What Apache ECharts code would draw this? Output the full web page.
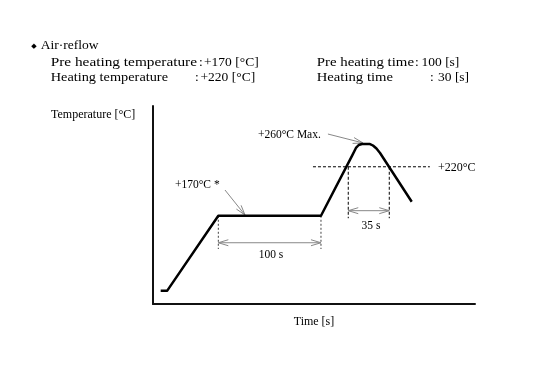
<!DOCTYPE html>
<html><head><meta charset="utf-8">
<script src="https://cdn.jsdelivr.net/npm/echarts@6/dist/echarts.min.js"></script>
<style>html,body{margin:0;padding:0;background:#fff}#c{width:553px;height:368px}</style>
</head><body><div id="c"></div>
<script>
// Reflow profile (time in s, temperature in °C, schematic)
const profileTimes = [7.5, 13.9, 63.7, 163.8, 194.3, 197.9, 200.6, 203.8, 211.6, 214.5, 217.9, 221.4, 252.3];
const profileTemps = [93.6, 93.6, 170, 170, 231.7, 239.2, 242.2, 243.2, 243.2, 241.7, 238.6, 234, 184.3];
// 220 °C reference line
const refTemp = 220;
const refTimes = [156, 270];
// pre-heating span (100 s)
const holdTimes = [63.7, 163.8];
const holdTemps = [170, 136];
const holdArrowTemp = 142.5;
// heating span (35 s)
const heatTimes = [190.4, 230.4];
const heatTemps = [220, 167.5];
const heatArrowTemp = 175.2;
// annotation arrows [fromTime, fromTemp, toTime, toTemp]
const arrow170 = [70.2, 196.3, 89.7, 170.8];
const arrow260 = [170.6, 253.4, 204.8, 244.3];

const FONT = 'Liberation Serif';
const chart = echarts.init(document.getElementById('c'), null, {renderer: 'canvas'});

function vline(t, temps) { return [[t, temps[0]], [t, temps[1]]]; }
const dashStyle = {color: '#000', width: 1, type: [3, 2]};

chart.setOption({
  animation: false,
  backgroundColor: '#fff',
  grid: {left: 153, top: 106, width: 322, height: 198},
  xAxis: {type: 'value', min: 0, max: 314, axisLine: {lineStyle: {color: '#111', width: 2}},
    axisTick: {show: false}, axisLabel: {show: false}, splitLine: {show: false}},
  yAxis: {type: 'value', min: 80, max: 282, axisLine: {show: true, lineStyle: {color: '#111', width: 2}},
    axisTick: {show: false}, axisLabel: {show: false}, splitLine: {show: false}},
  series: [
    {type: 'line', data: profileTimes.map((t, i) => [t, profileTemps[i]]), symbol: 'none',
     lineStyle: {color: '#000', width: 2.5, join: 'round'}, z: 5},
    {type: 'line', data: refTimes.map(t => [t, refTemp]), symbol: 'none', lineStyle: dashStyle},
    {type: 'line', data: vline(holdTimes[0], holdTemps), symbol: 'none', lineStyle: {color: '#444', width: 1, type: [2, 2]}},
    {type: 'line', data: vline(holdTimes[1], holdTemps), symbol: 'none', lineStyle: {color: '#444', width: 1, type: [2, 2]}},
    {type: 'line', data: vline(heatTimes[0], heatTemps), symbol: 'none', lineStyle: dashStyle},
    {type: 'line', data: vline(heatTimes[1], heatTemps), symbol: 'none', lineStyle: dashStyle}
  ]
});

const px = (t, T) => chart.convertToPixel({gridIndex: 0}, [t, T]);
const G = [];
const gray = '#888';
function head(tip, from, len, half) {
  const dx = tip[0] - from[0], dy = tip[1] - from[1];
  const L = Math.hypot(dx, dy); const ux = dx / L, uy = dy / L;
  const bx = tip[0] - ux * len, by = tip[1] - uy * len;
  G.push({type: 'polyline', shape: {points: [[bx - uy * half, by + ux * half], tip, [bx + uy * half, by - ux * half]]},
    style: {stroke: gray, lineWidth: 1, fill: null}});
}
function dbl(t1, t2, T) {
  const a = px(t1, T), b = px(t2, T);
  G.push({type: 'line', shape: {x1: a[0], y1: a[1], x2: b[0], y2: b[1]}, style: {stroke: gray, lineWidth: 1}});
  head(a, b, 10, 3); head(b, a, 10, 3);
}
function single(arr) {
  const a = px(arr[0], arr[1]), b = px(arr[2], arr[3]);
  G.push({type: 'line', shape: {x1: a[0], y1: a[1], x2: b[0], y2: b[1]}, style: {stroke: gray, lineWidth: 1}});
  head(b, a, 10, 3);
}
dbl(holdTimes[0], holdTimes[1], holdArrowTemp);
dbl(heatTimes[0], heatTimes[1], heatArrowTemp);
single(arrow170);
single(arrow260);

function txt(x, y, s, size, align, family) {
  G.push({type: 'text', x: x, y: y, style: {text: s, font: size + 'px "' + (family || FONT) + '"', fill: '#000',
    textAlign: align || 'left', textVerticalAlign: 'middle'}});
}
const mctx = document.createElement('canvas').getContext('2d');
// text stretched horizontally to span [x1, x2]
function fit(x1, x2, y, s, size) {
  const font = size + 'px "' + FONT + '"';
  mctx.font = font;
  const w = mctx.measureText(s).width;
  G.push({type: 'text', x: x1, y: y, scaleX: (x2 - x1) / w, style: {text: s, font: font, fill: '#000',
    textAlign: 'left', textVerticalAlign: 'middle'}});
}
// header
const HS = 13.5;
txt(34, 46, '\u25c6', 7, 'center', 'DejaVu Sans');
txt(40.7, 45, 'Air\u00b7reflow', HS);
fit(50.7, 197, 62, 'Pre heating temperature', HS);
txt(199, 62, ':', HS);
txt(204, 62, '+170 [\u00b0C]', HS);
fit(50.7, 168, 77, 'Heating temperature', HS);
txt(195, 77, ':', HS);
txt(200.5, 77, '+220 [\u00b0C]', HS);
fit(316.7, 414, 62, 'Pre heating time', HS);
txt(415, 62, ':', HS);
txt(421.5, 62, '100 [s]', HS);
fit(316.7, 393, 77, 'Heating time', HS);
txt(430, 77, ':', HS);
txt(438, 77, '30 [s]', HS);
// axis titles
txt(51, 115, 'Temperature [\u00b0C]', 12);
txt(314, 322, 'Time [s]', 12, 'center');
// annotations
txt(175, 185, '+170\u00b0C *', 11.5);
txt(258, 135, '+260\u00b0C Max.', 11.5);
txt(438, 168, '+220\u00b0C', 12);
txt(271, 255, '100 s', 11.5, 'center');
txt(371, 226, '35 s', 11.5, 'center');

chart.setOption({graphic: G});
</script></body></html>
